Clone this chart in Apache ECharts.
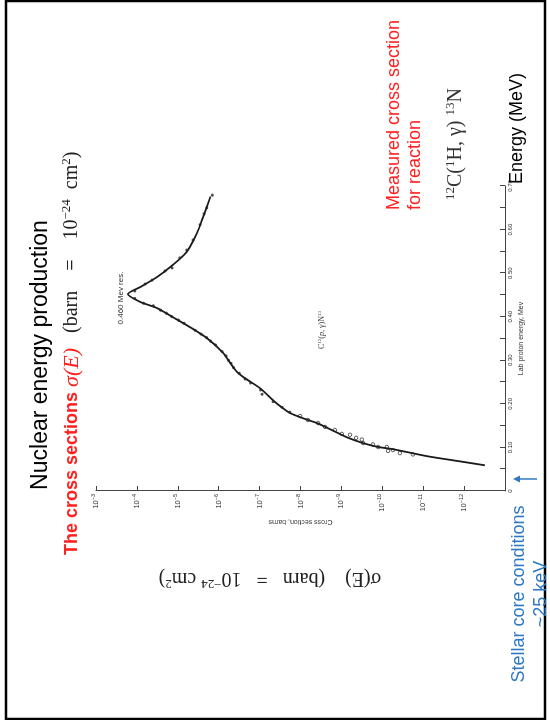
<!DOCTYPE html>
<html>
<head>
<meta charset="utf-8">
<script src="https://cdn.jsdelivr.net/npm/echarts@6/dist/echarts.min.js"></script>
<style>
  html, body { margin: 0; padding: 0; width: 550px; height: 720px; overflow: hidden; background: #fff; }
  /* the slide is laid out 720x550 and turned a quarter turn to the left */
  #slide {
    position: absolute; left: 0; top: 0;
    width: 720px; height: 550px;
    transform-origin: 0 0;
    transform: translate(0px, 720px) rotate(-90deg);
  }
</style>
</head>
<body>
<div id="slide"></div>
<script>
// fitted curve, lab proton energy (MeV) and log10 of cross section (barn)
const fitEnergy = [0.059, 0.068, 0.080, 0.096, 0.101, 0.110, 0.123, 0.142, 0.156, 0.167, 0.179, 0.190,
    0.204, 0.236, 0.259, 0.273, 0.294, 0.317, 0.351, 0.376, 0.399, 0.420, 0.434, 0.452,
    0.468, 0.491, 0.519, 0.549, 0.592, 0.629, 0.676];
const fitLogSigma = [-12.51, -11.90, -11.09, -10.26, -9.90, -9.53, -9.14, -8.72, -8.40, -8.06, -7.74, -7.57,
    -7.38, -7.01, -6.64, -6.45, -6.28, -6.11, -5.71, -5.30, -4.88, -4.49, -4.08, -3.78,
    -4.08, -4.49, -4.88, -5.22, -5.47, -5.62, -5.80];

// measured points, filled dots
const dotEnergy = [0.459, 0.475, 0.484, 0.505, 0.512, 0.535, 0.553, 0.576, 0.611, 0.636, 0.650, 0.679,
    0.442, 0.431, 0.425, 0.415, 0.408, 0.400, 0.392, 0.385, 0.369, 0.360, 0.352, 0.344, 0.335,
    0.320, 0.310, 0.300, 0.293, 0.283, 0.270, 0.257, 0.248, 0.232, 0.222, 0.205, 0.192, 0.181];
const dotLogSigma = [-3.95, -4.20, -4.37, -4.69, -4.86, -5.05, -5.22, -5.37, -5.54, -5.64, -5.71, -5.84,
    -3.95, -4.16, -4.40, -4.58, -4.72, -4.85, -5.02, -5.15, -5.42, -5.57, -5.70, -5.80, -5.92,
    -6.08, -6.18, -6.24, -6.30, -6.36, -6.50, -6.64, -6.78, -7.02, -7.06, -7.33, -7.55, -7.74];

// measured points at low energy, open markers
const openEnergy = [0.172, 0.163, 0.156, 0.147, 0.140, 0.131, 0.129, 0.122, 0.118, 0.110, 0.107, 0.101,
    0.101, 0.094, 0.092, 0.087, 0.084];
const openLogSigma = [-7.99, -8.18, -8.43, -8.60, -8.84, -9.01, -9.21, -9.36, -9.50, -9.53, -9.77, -9.90,
    -10.11, -10.26, -10.14, -10.43, -10.75];

const energyTicks = ['0', '0.10', '0.20', '0.30', '0.40', '0.50', '0.60', '0.70'];
const sigmaExponents = [-3, -4, -5, -6, -7, -8, -9, -10, -11, -12];

const pairs = (xs, ys) => xs.map((x, i) => [x, ys[i]]);

const chart = echarts.init(document.getElementById('slide'));

const sans = '"Liberation Sans", Arial, sans-serif';
const serif = '"Liberation Serif", "DejaVu Serif", serif';

chart.setOption({
    animation: false,
    backgroundColor: '#fff',
    grid: {
        left: 229,
        right: 186,
        top: 96,
        bottom: 45
    },
    xAxis: {
        type: 'value',
        min: 0,
        max: 0.7,
        interval: 0.05,
        name: 'Lab proton energy, Mev',
        nameLocation: 'middle',
        nameGap: 11,
        nameTextStyle: { fontFamily: sans, fontSize: 7, color: '#333' },
        axisLine: { lineStyle: { color: '#444', width: 1 } },
        axisTick: { inside: true, length: 5, lineStyle: { color: '#444' } },
        axisLabel: {
            fontFamily: sans,
            fontSize: 6,
            color: '#333',
            margin: 2,
            formatter: (v) => {
                const k = Math.round(v * 100);
                return k % 10 === 0 ? energyTicks[k / 10] : '';
            }
        },
        splitLine: { show: false }
    },
    yAxis: {
        type: 'value',
        min: -13,
        max: -3,
        interval: 1,
        name: 'Cross section, barns',
        nameLocation: 'middle',
        nameRotate: 90,
        nameGap: 27,
        nameTextStyle: { fontFamily: sans, fontSize: 7, color: '#333' },
        axisLine: { lineStyle: { color: '#444', width: 1 } },
        axisTick: { inside: true, length: 5, lineStyle: { color: '#444' } },
        axisLabel: {
            fontFamily: sans,
            fontSize: 7.5,
            color: '#333',
            margin: 3,
            formatter: (v) => sigmaExponents.indexOf(v) >= 0 ? '10{s|\u2212' + (-v) + '}' : '',
            rich: { s: { fontFamily: sans, fontSize: 5.5, color: '#333', padding: [0, 0, 5, 0] } }
        },
        splitLine: { show: false }
    },
    series: [
        {
            name: 'fit',
            type: 'line',
            data: pairs(fitEnergy, fitLogSigma),
            smooth: 0.25,
            showSymbol: false,
            lineStyle: { color: '#1a1a1a', width: 1.8 },
            z: 3
        },
        {
            name: 'measured',
            type: 'scatter',
            data: pairs(dotEnergy, dotLogSigma),
            symbolSize: 3,
            itemStyle: { color: '#222' },
            z: 4
        },
        {
            name: 'measured low',
            type: 'scatter',
            data: pairs(openEnergy, openLogSigma),
            symbol: 'circle',
            symbolSize: 3.5,
            itemStyle: { color: 'rgba(0,0,0,0)', borderColor: '#222', borderWidth: 0.9 },
            z: 4
        }
    ],
    graphic: [
        {
            type: 'rect',
            shape: { x: 1, y: 6, width: 718, height: 539 },
            style: { fill: 'none', stroke: '#000', lineWidth: 2.5 },
            silent: true
        },
        {
            type: 'text', x: 365, y: 41,
            style: {
                text: 'Nuclear energy production',
                font: '23px ' + sans, fill: '#000',
                align: 'center', verticalAlign: 'middle',
                textAlign: 'center', textVerticalAlign: 'middle'
            }
        },
        {
            type: 'text', x: 165, y: 72,
            style: {
                text: '{a|The cross sections }{b|σ(E)}{c|   (barn    =    10}{s|\u221224}{c|  cm}{s|2}{c|)}',
                align: 'left', verticalAlign: 'middle',
                textAlign: 'left', textVerticalAlign: 'middle',
                rich: {
                    a: { font: 'bold 18px ' + sans, fill: '#ff2020' },
                    b: { font: 'italic 22px ' + serif, fill: '#ff2020' },
                    c: { font: '20px ' + serif, fill: '#222' },
                    s: { font: '13px ' + serif, fill: '#222', padding: [0, 0, 10, 0] }
                }
            }
        },
        {
            type: 'text', x: 142, y: 270, rotation: Math.PI / 2,
            style: {
                text: '{c|σ(E)    (barn   =   10}{s|\u221224}{c| cm}{s|2}{c|)}',
                align: 'center', verticalAlign: 'middle',
                textAlign: 'center', textVerticalAlign: 'middle',
                rich: {
                    c: { font: '20px ' + serif, fill: '#222' },
                    s: { font: '13px ' + serif, fill: '#222', padding: [0, 0, 10, 0] }
                }
            }
        },
        {
            type: 'text', x: 422, y: 121,
            style: {
                text: '0.460 Mev res.', font: '8px ' + sans, fill: '#333',
                align: 'center', verticalAlign: 'middle',
                textAlign: 'center', textVerticalAlign: 'middle'
            }
        },
        {
            type: 'text', x: 390, y: 322,
            style: {
                text: '{c|C}{s|12}{c|(}{i|p}{c|, γ)N}{s|13}',
                align: 'center', verticalAlign: 'middle',
                textAlign: 'center', textVerticalAlign: 'middle',
                rich: {
                    c: { font: '8px ' + serif, fill: '#333' },
                    i: { font: 'italic 8px ' + serif, fill: '#333' },
                    s: { font: '5px ' + serif, fill: '#333', padding: [0, 0, 4, 0] }
                }
            }
        },
        {
            type: 'text', x: 510, y: 405,
            style: {
                text: 'Measured cross section\nfor reaction', font: '18px ' + sans, fill: '#ff2020',
                lineHeight: 21,
                align: 'left', verticalAlign: 'middle',
                textAlign: 'left', textVerticalAlign: 'middle'
            }
        },
        {
            type: 'text', x: 520, y: 456,
            style: {
                text: '{s|12}{c|C(}{s|1}{c|H, γ) }{s|13}{c|N}',
                align: 'left', verticalAlign: 'middle',
                textAlign: 'left', textVerticalAlign: 'middle',
                rich: {
                    c: { font: '20px ' + serif, fill: '#333' },
                    s: { font: '13px ' + serif, fill: '#333', padding: [0, 0, 10, 0] }
                }
            }
        },
        {
            type: 'text', x: 536, y: 517,
            style: {
                text: 'Energy (MeV)', font: '18px ' + sans, fill: '#000',
                align: 'left', verticalAlign: 'middle',
                textAlign: 'left', textVerticalAlign: 'middle'
            }
        },
        {
            type: 'text', x: 126, y: 530,
            style: {
                text: 'Stellar core conditions\n~25 keV', font: '18px ' + sans, fill: '#2f78c4',
                lineHeight: 22,
                align: 'center', verticalAlign: 'middle',
                textAlign: 'center', textVerticalAlign: 'middle'
            }
        },
        {
            type: 'line',
            shape: { x1: 241, y1: 537, x2: 241, y2: 518 },
            style: { stroke: '#2f78c4', lineWidth: 1.5 }
        },
        {
            type: 'polygon',
            shape: { points: [[241, 513], [237.5, 520], [244.5, 520]] },
            style: { fill: '#2f78c4' }
        }
    ]
});
</script>
</body>
</html>
